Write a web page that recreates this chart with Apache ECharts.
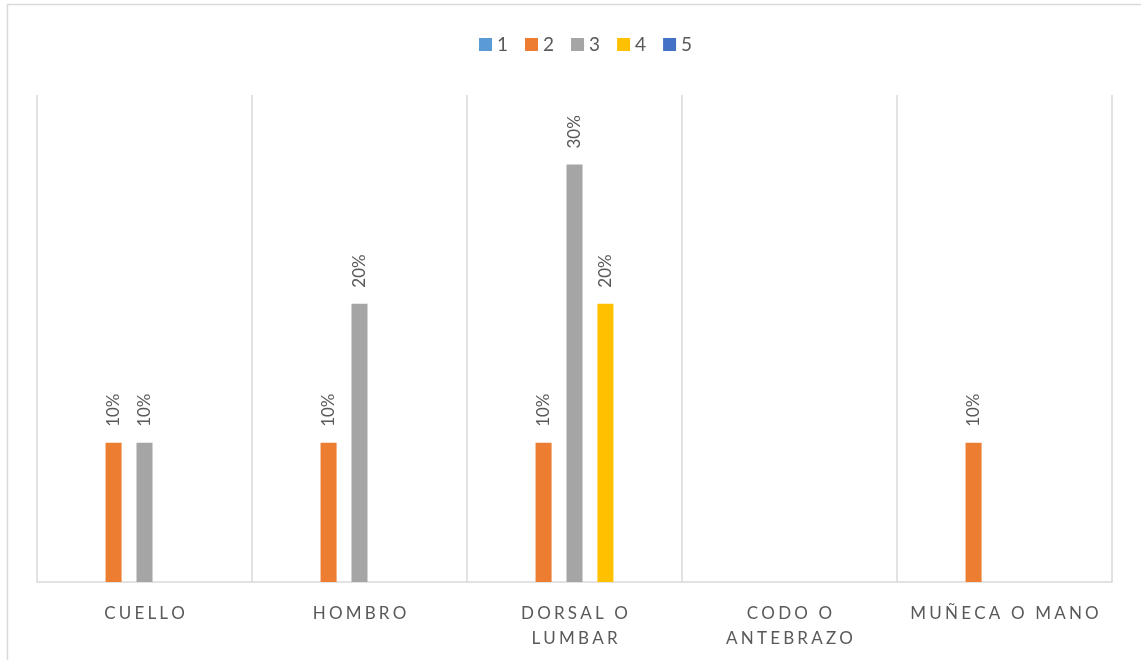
<!DOCTYPE html>
<html>
<head>
<meta charset="utf-8">
<script src="https://cdn.jsdelivr.net/npm/echarts@6/dist/echarts.min.js"></script>
<style>
  html, body { margin: 0; padding: 0; background: #fff; }
  #chart { width: 1141px; height: 660px; }
</style>
</head>
<body>
<div id="chart"></div>
<script>
// Body regions and the share of responses per rating (1–5)
const categories = ['CUELLO', 'HOMBRO', 'DORSAL O\nLUMBAR', 'CODO O\nANTEBRAZO', 'MUÑECA O MANO'];
const seriesNames = ['1', '2', '3', '4', '5'];
const values1 = [null, null, null, null, null];
const values2 = [10, 10, 10, null, 10];
const values3 = [10, 20, 30, null, null];
const values4 = [null, null, 20, null, null];
const values5 = [null, null, null, null, null];
const colors = ['#5B9BD5', '#ED7D31', '#A5A5A5', '#FFC000', '#4472C4'];

const FONT = 'Lato, "Open Sans", sans-serif';
const TEXT = '#595959';

// spread letters apart for the axis captions
function spaced(s) {
  return s.split('\n').map(line => line.split('').join('\u2009\u200A')).join('\n');
}

const allValues = [values1, values2, values3, values4, values5];

const chart = echarts.init(document.getElementById('chart'));
chart.setOption({
  animation: false,
  textStyle: { fontFamily: FONT },
  graphic: [{
    type: 'rect',
    shape: { x: 7.5, y: 4.5, width: 1160, height: 680 },
    style: { fill: 'none', stroke: '#D9D9D9', lineWidth: 1.5 },
    silent: true
  }],
  legend: {
    top: 30,
    left: 474,
    itemWidth: 13,
    itemHeight: 13,
    itemGap: 17,
    icon: 'rect',
    textStyle: { color: TEXT, fontSize: 19, fontFamily: FONT },
    data: seriesNames
  },
  grid: { left: 37, right: 29, top: 95, bottom: 78 },
  xAxis: {
    type: 'category',
    data: categories,
    axisLine: { lineStyle: { color: '#D9D9D9', width: 1.5 } },
    axisTick: { show: false },
    splitLine: { show: true, interval: 0, lineStyle: { color: '#D9D9D9', width: 1.5 } },
    axisLabel: {
      interval: 0,
      color: TEXT,
      fontSize: 17,
      lineHeight: 25,
      margin: 19,
      fontFamily: FONT,
      formatter: v => spaced(v)
    }
  },
  yAxis: {
    type: 'value',
    min: 0,
    max: 35,
    show: false,
    splitLine: { show: false }
  },
  series: seriesNames.map((name, i) => ({
    name,
    type: 'bar',
    data: allValues[i],
    itemStyle: { color: colors[i] },
    barGap: '93%',
    barCategoryGap: '35%',
    label: {
      show: true,
      position: 'top',
      rotate: 90,
      align: 'left',
      verticalAlign: 'middle',
      distance: 16,
      color: TEXT,
      fontSize: 17,
      fontFamily: FONT,
      formatter: p => p.value + '%'
    }
  }))
});
</script>
</body>
</html>
